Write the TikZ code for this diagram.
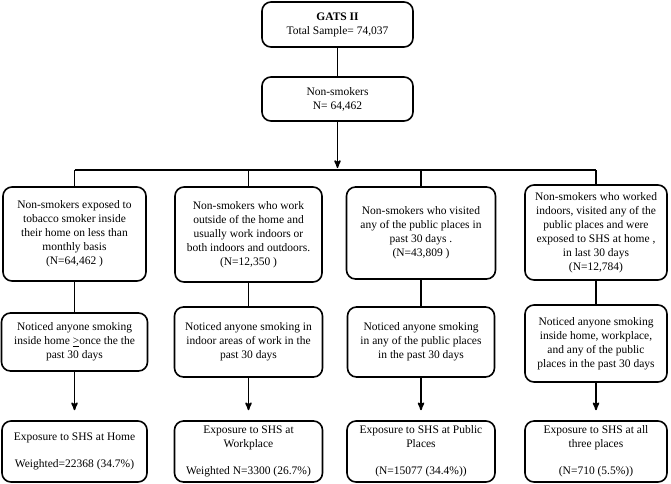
\documentclass[tikz,border=0pt]{standalone}
\usepackage{fontspec}
\setmainfont{Liberation Serif}
\usepackage{tikz}
\usetikzlibrary{arrows,positioning}

\begin{document}
\begin{tikzpicture}[x=1pt,y=-1pt,
	  every node/.style={align=center,font=\fontsize{11.5}{14}\selectfont},
	  box/.style={draw,line width=1.6pt,rounded corners=9pt,inner sep=1pt},
	  line/.style={line width=1.6pt},
	  to/.style={->,>=stealth',line width=1.6pt}]

	  \useasboundingbox (0,0) rectangle (671,483);

	  % Sample selection at the top
	  \node[box,minimum width=151pt,minimum height=45pt] (gats) at (337.5,24.5) {\textbf{GATS II}\\Total Sample= 74,037};
	  \node[box,minimum width=151pt,minimum height=44pt] (nonsmk) at (337.5,99) {Non-smokers\\N= 64,462};
	  \coordinate (bus) at (337.5,170);

	  % Four groups of non-smokers
	  \node[box,minimum width=143pt,minimum height=94pt] (grpa) at (74.5,234) {Non-smokers exposed to\\tobacco smoker inside\\their home on less than\\monthly basis\\(N=64,462 )};
	  \node[box,minimum width=147pt,minimum height=95pt] (grpb) at (248.5,234.5) {Non-smokers who work\\outside of the home and\\usually work indoors or\\both indoors and outdoors.\\(N=12,350 )};
	  \node[box,minimum width=149pt,minimum height=92pt] (grpc) at (421,233) {Non-smokers who visited\\any of the public places in\\past 30 days .\\(N=43,809 )};
	  \node[box,minimum width=142pt,minimum height=95pt] (grpd) at (596,232.5) {Non-smokers who worked\\indoors, visited any of the\\public places and were\\exposed to SHS at home ,\\in last 30 days\\(N=12,784)};

	  \node[box,minimum width=146pt,minimum height=58pt] (notea) at (74.5,342) {Noticed anyone smoking\\inside home \underline{>}once the the\\past 30 days};
	  \node[box,minimum width=148pt,minimum height=70pt] (noteb) at (248.5,342) {Noticed anyone smoking in\\indoor areas of work in the\\past 30 days};
	  \node[box,minimum width=147pt,minimum height=70pt] (notec) at (421,342) {Noticed anyone smoking\\in any of the public places\\in the past 30 days};
	  \node[box,minimum width=142pt,minimum height=77pt] (noted) at (596,343.5) {Noticed anyone smoking\\inside home, workplace,\\and any of the public\\places in the past 30 days};

	  \node[box,minimum width=145pt,minimum height=61pt] (expa) at (74.5,451.5) {Exposure to SHS at Home\\[13pt]Weighted=22368 (34.7\%)};
	  \node[box,minimum width=148pt,minimum height=61pt] (expb) at (248.5,451.5) {Exposure to SHS at\\Workplace\\[13pt]Weighted N=3300 (26.7\%)};
	  \node[box,minimum width=148pt,minimum height=61pt] (expc) at (421,451.5) {Exposure to SHS at Public\\Places\\[13pt](N=15077 (34.4\%))};
	  \node[box,minimum width=142pt,minimum height=61pt] (expd) at (596,451.5) {Exposure to SHS at all\\three places\\[13pt](N=710 (5.5\%))};

	  \coordinate (joina) at (grpa.north |- bus);
	  \coordinate (joinb) at (grpb.north |- bus);
	  \coordinate (joinc) at (grpc.north |- bus);
	  \coordinate (joind) at (grpd.north |- bus);

	  \draw[line] (gats) -- (nonsmk);
	  \draw[to,shorten >=2pt] (nonsmk) -- (bus);
	  \draw[line] (joina) -- (joind);
	  \foreach \g in {a,b,c,d} {
	    \draw[line] (join\g) -- (grp\g);
	    \draw[line] (grp\g) -- (note\g);
	    \draw[to,shorten >=10pt] (note\g) -- (exp\g);
	  }
\end{tikzpicture}
\end{document}
